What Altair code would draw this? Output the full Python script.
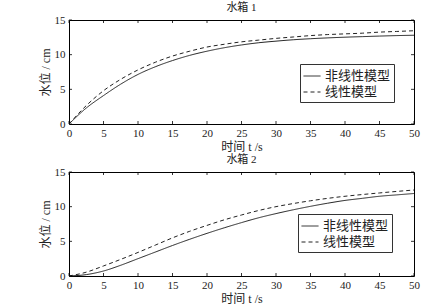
import altair as alt
import pandas as pd

t = [0, 2.5, 5, 7.5, 10, 12.5, 15, 17.5, 20, 22.5, 25, 27.5, 30, 32.5, 35, 37.5, 40, 42.5, 45, 47.5, 50]

tank1_nonlinear = [0, 2.3, 4.1, 5.75, 7.15, 8.25, 9.15, 9.9, 10.5, 11.0, 11.4, 11.72, 11.95, 12.15, 12.3, 12.42, 12.52, 12.6, 12.68, 12.75, 12.8]
tank1_linear = [0, 2.65, 4.8, 6.45, 7.8, 8.9, 9.8, 10.5, 11.1, 11.5, 11.85, 12.1, 12.35, 12.55, 12.75, 12.9, 13.0, 13.1, 13.25, 13.35, 13.45]

tank2_nonlinear = [0, 0.2, 0.72, 1.55, 2.5, 3.45, 4.4, 5.3, 6.15, 6.95, 7.7, 8.4, 9.0, 9.55, 10.05, 10.5, 10.9, 11.2, 11.5, 11.7, 11.9]
tank2_linear = [0, 0.55, 1.45, 2.4, 3.4, 4.45, 5.5, 6.45, 7.3, 8.1, 8.8, 9.45, 10.0, 10.45, 10.85, 11.2, 11.5, 11.75, 11.98, 12.2, 12.4]

models = ["非线性模型", "线性模型"]
titles = ["水箱 1", "水箱 2"]
x_ticks = [0, 5, 10, 15, 20, 25, 30, 35, 40, 45, 50]
y_ticks = [0, 5, 10, 15]

FONT = "Liberation Serif, Noto Sans CJK SC"
W, H = 345, 104
TK = 3
INK = "#222222"


def panel(nonlin, lin, title, lx, ly):
    df = pd.DataFrame({
        "t": t * 2,
        "h": nonlin + lin,
        "model": [models[0]] * len(t) + [models[1]] * len(t),
    })
    xs = alt.Scale(domain=[0, 50], nice=False)
    ys = alt.Scale(domain=[0, 15], nice=False)
    xa = alt.Axis(values=x_ticks, title="时间 t /s", labelPadding=3, titlePadding=3)
    ya = alt.Axis(values=y_ticks, title="水位 / cm", labelPadding=4, titlePadding=2)
    lines = alt.Chart(df).mark_line(interpolate="monotone", strokeWidth=1, color=INK).encode(
        x=alt.X("t:Q", scale=xs, axis=xa),
        y=alt.Y("h:Q", scale=ys, axis=ya),
        strokeDash=alt.StrokeDash(
            "model:N",
            scale=alt.Scale(domain=models, range=[[1, 0], [4, 3]]),
            legend=alt.Legend(
                title=None, orient="none", legendX=lx, legendY=ly,
                symbolType="stroke", symbolSize=289, symbolStrokeWidth=1,
                symbolStrokeColor=INK, labelFontSize=13, labelFont=FONT,
                labelColor=INK, strokeColor="#333333", fillColor="white",
                padding=3, rowPadding=0, labelOffset=4,
            ),
        ),
    )
    xt = pd.DataFrame({"t": x_ticks})
    yt = pd.DataFrame({"h": y_ticks})
    rule = dict(color="black", strokeWidth=0.8)
    bx = alt.Chart(xt).mark_rule(**rule).encode(
        x=alt.X("t:Q", scale=xs, axis=xa), y=alt.value(H), y2=alt.value(H - TK))
    tx = alt.Chart(xt).mark_rule(**rule).encode(
        x=alt.X("t:Q", scale=xs, axis=xa), y=alt.value(0), y2=alt.value(TK))
    ly_ = alt.Chart(yt).mark_rule(**rule).encode(
        y=alt.Y("h:Q", scale=ys, axis=ya), x=alt.value(0), x2=alt.value(TK))
    ry = alt.Chart(yt).mark_rule(**rule).encode(
        y=alt.Y("h:Q", scale=ys, axis=ya), x=alt.value(W), x2=alt.value(W - TK))
    return alt.layer(lines, bx, tx, ly_, ry).properties(
        width=W, height=H,
        title=alt.Title(title, font=FONT, fontSize=11, fontWeight="normal", color=INK, offset=1),
    )


top = panel(tank1_nonlinear, tank1_linear, titles[0], 231, 44)
bottom = panel(tank2_nonlinear, tank2_linear, titles[1], 229, 42)

chart = alt.vconcat(top, bottom, spacing=0).resolve_legend(strokeDash="independent").properties(
    padding={"left": 38, "top": 1, "right": 5, "bottom": 0},
    background="white",
).configure_view(stroke="black", strokeWidth=1).configure_axis(
    grid=False, domain=False, ticks=False,
    labelFont=FONT, labelFontSize=11, labelColor=INK,
    titleFont=FONT, titleFontSize=12, titleFontWeight="normal", titleColor=INK,
).configure_axisX(labelFlush=False)

chart.save("out.html", embed_options={"renderer": "svg", "actions": False})
